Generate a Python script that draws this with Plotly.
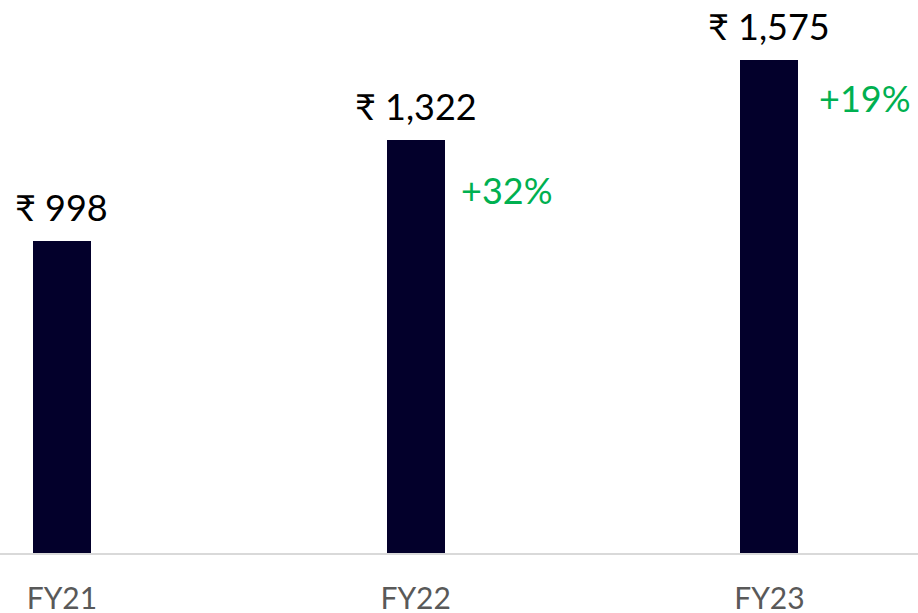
import plotly.graph_objects as go

categories = ["FY21", "FY22", "FY23"]
values = [998, 1322, 1575]
value_labels = ["₹ 998", "₹ 1,322", "₹ 1,575"]
growth_labels = ["", "+32%", "+19%"]

# layout-only offsets (pixels below bar top / right of bar edge for growth labels)
growth_drop = [0, 50, 38]
growth_gap = [0, 14, 19]

FONT = "Lato, 'Noto Sans', sans-serif"
BAR = "#03002B"
GREEN = "#00B050"

fig = go.Figure()
fig.add_trace(go.Bar(
    x=list(range(len(categories))),
    y=values,
    width=0.164,
    marker=dict(color=BAR, line=dict(width=0)),
    hoverinfo="skip",
))

annotations = []
for i, (v, lab) in enumerate(zip(values, value_labels)):
    annotations.append(dict(
        x=i, y=v, xref="x", yref="y", text=lab, showarrow=False,
        xanchor="center", yanchor="bottom", yshift=10,
        font=dict(family=FONT, size=36, color="#000000"),
    ))
for i, (v, g) in enumerate(zip(values, growth_labels)):
    if not g:
        continue
    annotations.append(dict(
        x=i, y=v, xref="x", yref="y", text=g, showarrow=False,
        xanchor="left", yanchor="middle", xshift=29 + growth_gap[i],
        yshift=-growth_drop[i],
        font=dict(family=FONT, size=36, color=GREEN),
    ))

fig.update_layout(
    width=918, height=613,
    margin=dict(l=0, r=0, t=0, b=60, pad=0, autoexpand=False),
    paper_bgcolor="white", plot_bgcolor="white",
    showlegend=False,
    bargap=0,
    annotations=annotations,
    xaxis=dict(
        range=[-0.175, 2.42],
        tickmode="array",
        tickvals=list(range(len(categories))),
        ticktext=categories,
        showgrid=False, zeroline=False,
        showline=True, linecolor="#D9D9D9", linewidth=2,
        ticks="", ticklabelstandoff=18,
        tickfont=dict(family=FONT, size=30, color="#595959"),
        automargin=False,
        fixedrange=True,
    ),
    yaxis=dict(
        range=[0, 1768],
        visible=False, showgrid=False, zeroline=False,
        automargin=False,
        fixedrange=True,
    ),
)

fig.write_html(
    "out.html",
    config={"displayModeBar": False, "staticPlot": True},
    post_script="document.body.style.margin='0';document.body.style.overflow='hidden';",
)
